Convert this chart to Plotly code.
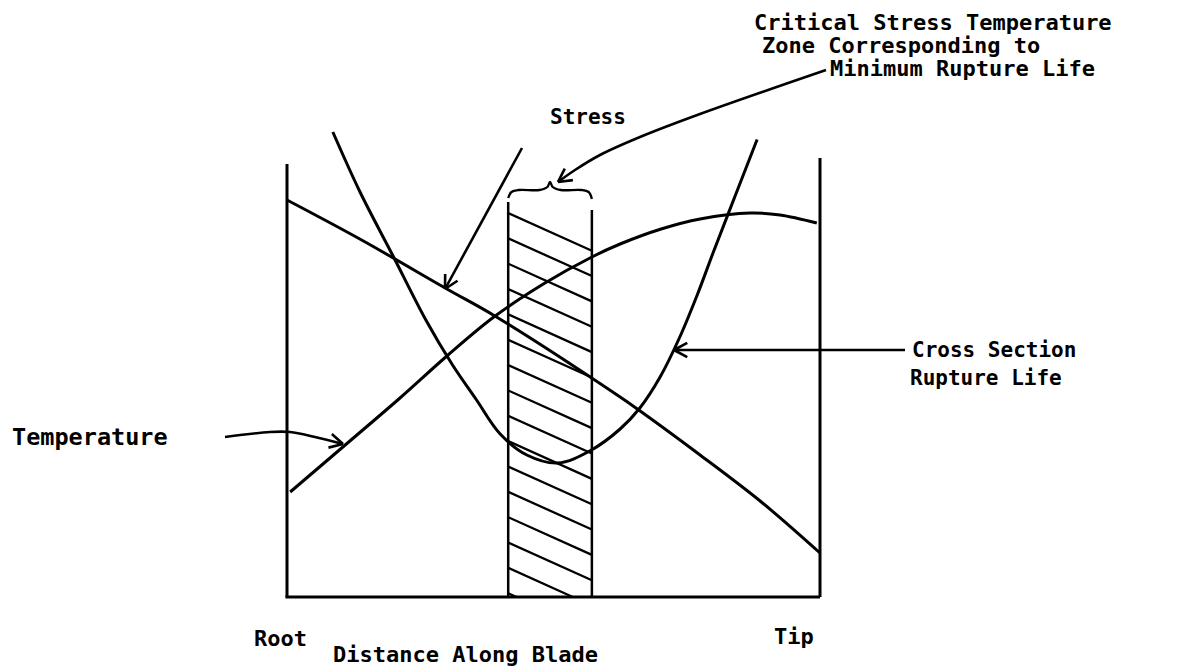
import numpy as np
import plotly.graph_objects as go

# ---------------- data (distance along blade: 0 = root, 100 = tip; relative units) -------------
stress_x = [0, 14, 30, 39, 62.5, 66, 77.5, 89, 100]
stress_y = [79.4, 71.4, 61.6, 56.2, 40.0, 37.4, 28.4, 19.0, 8.8]

temp_x = [0.6, 11.8, 21.2, 30.0, 38.8, 48.4, 57.2, 62.5, 70.2, 77.5, 86.9, 92.5, 99.4]
temp_y = [21.0, 31.2, 39.8, 48.2, 56.0, 62.8, 68.0, 70.6, 73.6, 75.6, 76.8, 76.4, 74.8]

life_x = [8.6, 13.7, 19.9, 26.0, 31.0, 35.5, 40.0, 45.0, 50.8, 56.8, 62.5, 66.2, 70.0, 73.7, 77.0, 80.0, 84.0, 88.2]
life_y = [93.0, 81.0, 68.2, 55.5, 46.5, 39.5, 32.6, 28.4, 26.8, 29.2, 33.6, 37.8, 44.0, 52.0, 60.5, 69.0, 80.0, 91.5]

zone_x = [41.5, 57.2]      # critical zone extent
zone_top = [79.0, 77.4]    # top of zone borders (left, right)
frame_top = [86.6, 87.8]   # top of root / tip verticals

# ---------------- layout mapping (screen pixels of the 1180x666 window) ----------------
SW, SH = 1180, 666
OFF = 8                    # default page margin around the plot div
W, H = SW - OFF, SH - OFF
PX0, PXS = 287, 5.33
PY0, PYS = 597, 5.0


def d(px, py):
    return ((px - PX0) / PXS, (PY0 - py) / PYS)


xr = [(OFF - PX0) / PXS, (SW - PX0) / PXS]
yr = [(PY0 - SH) / PYS, (PY0 - OFF) / PYS]

fig = go.Figure()
LW = 3
K = "black"


def line(xs, ys, w=LW, shape="linear"):
    fig.add_trace(go.Scatter(x=xs, y=ys, mode="lines", line=dict(color=K, width=w, shape=shape),
                             hoverinfo="skip", showlegend=False))


# frame
line([0, 0], [0, frame_top[0]])
line([100, 100], [0, frame_top[1]])
line([-0.3, 100], [0, 0])

# zone borders
line([zone_x[0]] * 2, [0, zone_top[0]], w=2.5)
line([zone_x[1]] * 2, [0, zone_top[1]], w=2.5)

# hatch lines
slope = -0.48
c = 76.8
step = 5.07
while c > 0.5:
    x0 = zone_x[0]
    x1 = zone_x[1]
    y1 = c + slope * (x1 - x0)
    if y1 < 0:
        x1 = x0 + c / (-slope)
        y1 = 0
    line([x0, x1], [c, y1], w=2.3)
    c -= step

# curves
line(stress_x, stress_y, shape="spline")
line(temp_x, temp_y, shape="spline")
line(life_x, life_y, shape="spline")

# brace over zone
bx0, bx1 = zone_x
bm = (bx0 + bx1) / 2
zt = zone_top[0]
brace_x = [bx0, bx0 + 0.6, bx0 + 2.0, bm - 2.0, bm - 0.5, bm, bm + 0.5, bm + 2.0, bx1 - 2.0, bx1 - 0.6, bx1]
brace_y = [zt + 0.8, zt + 2.0, zt + 2.4, zt + 2.4, zt + 3.0, zt + 4.0, zt + 3.0, zt + 2.4, zt + 2.4,
           zt + 2.0, zt + 0.6]
line(brace_x, brace_y, w=2.3, shape="spline")


# arrows (pixel-space helpers)
def arrow(pts, w=2.6, head=15, shape="linear"):
    xs, ys = zip(*[d(*p) for p in pts])
    line(list(xs), list(ys), w=w, shape=shape)
    (tx, ty), (fx, fy) = pts[-1], pts[-2]
    ang = np.arctan2(fy - ty, fx - tx)
    for s in (-1, 1):
        a = ang + s * np.radians(28)
        hx, hy = tx + head * np.cos(a), ty + head * np.sin(a)
        p0, p1 = d(hx, hy), d(tx, ty)
        line([p0[0], p1[0]], [p0[1], p1[1]], w=w)


arrow([(522, 148), (445, 289)])
arrow([(826, 70), (700, 114), (640, 137), (600, 155), (575, 170), (558, 182)], shape="spline")
arrow([(225, 437), (270, 432), (290, 432), (315, 437), (343, 444)], shape="spline")
arrow([(905, 350), (674, 350)])


# labels
def label(px, py, text, size=21):
    x, y = d(px, py)
    fig.add_annotation(x=x, y=y, xref="x", yref="y", text="<b>" + text + "</b>", showarrow=False,
                       xanchor="left", yanchor="middle",
                       font=dict(family="DejaVu Sans Mono", size=size, color=K))


label(752, 22, "Critical Stress Temperature", 22)
label(760, 45, "Zone Corresponding to", 22)
label(828, 68, "Minimum Rupture Life", 22)
label(548, 117, "Stress", 21)
label(10, 437, "Temperature", 23.5)
label(910, 350, "Cross Section", 21)
label(908, 378, "Rupture Life", 21)
label(252, 638, "Root", 22)
label(772, 636, "Tip", 22)
label(331, 654, "Distance Along Blade", 22)

fig.update_layout(
    width=W, height=H, margin=dict(l=0, r=0, t=0, b=0),
    paper_bgcolor="white", plot_bgcolor="white",
    xaxis=dict(range=xr, visible=False, fixedrange=True),
    yaxis=dict(range=yr, visible=False, fixedrange=True),
)

fig.write_html("out.html")
